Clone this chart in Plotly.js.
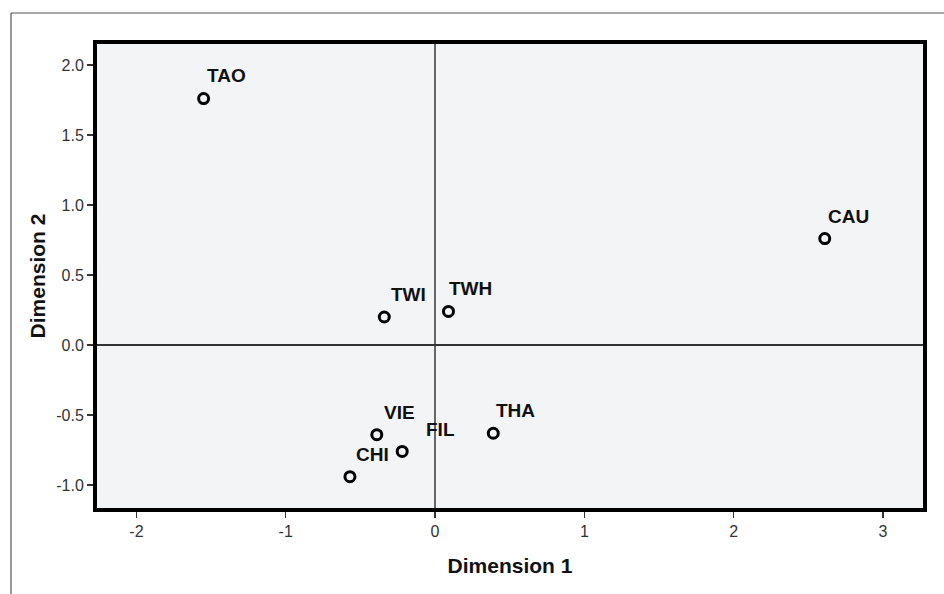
<!DOCTYPE html>
<html>
<head>
<meta charset="utf-8">
<script src="https://cdn.plot.ly/plotly-3.0.1.min.js"></script>
<style>
  html, body { margin: 0; padding: 0; background: #fff; }
  #chart { width: 944px; height: 594px; }
</style>
</head>
<body>
<div id="chart"></div>
<script>
// ---- data ----
const groups = ["TAO", "CAU", "TWI", "TWH", "VIE", "FIL", "CHI", "THA"];
const dim1   = [-1.55, 2.61, -0.34, 0.09, -0.39, -0.22, -0.57, 0.39];
const dim2   = [1.76, 0.76, 0.20, 0.24, -0.64, -0.76, -0.94, -0.63];

const xTickVals = [-2, -1, 0, 1, 2, 3];
const xTickText = ["-2", "-1", "0", "1", "2", "3"];
const yTickVals = [-1, -0.5, 0, 0.5, 1, 1.5, 2];
const yTickText = ["-1.0", "-0.5", "0.0", "0.5", "1.0", "1.5", "2.0"];

// label placement (pixel offsets from each point)
const labelDx = [1, 1, 5, -1, 5, 22, 4, 1];
const labelDy = [23, 22, 23, 23, 22, 22, 22, 23];

const W = 944, H = 594;
const M = { l: 97, r: 21, t: 44, b: 86 };
const pw = W - M.l - M.r, ph = H - M.t - M.b;
const px = v => (v - M.l) / pw;           // pixel x -> paper x
const py = v => 1 - (v - M.t) / ph;       // pixel y -> paper y

const FONT = "Liberation Sans, Arial, sans-serif";

const annotations = groups.map((g, i) => ({
  x: dim1[i], y: dim2[i], xref: "x", yref: "y",
  text: g, showarrow: false,
  xanchor: "left", yanchor: "middle",
  xshift: labelDx[i], yshift: labelDy[i],
  font: { family: FONT, size: 19, color: "#111", weight: "bold" }
}));

const trace = {
  type: "scatter", mode: "markers",
  x: dim1, y: dim2, text: groups,
  marker: { symbol: "circle-open", size: 10, color: "#000", line: { width: 3, color: "#000" } },
  hoverinfo: "text+x+y", showlegend: false
};

const axisCommon = {
  showgrid: false,
  showline: true, linecolor: "#000", linewidth: 4, mirror: true,
  ticks: "outside", ticklen: 6, tickwidth: 1.5, tickcolor: "#333",
  tickmode: "array",
  tickfont: { family: FONT, size: 16, color: "#333" },
  zeroline: true, zerolinewidth: 1.5,
  automargin: false
};

const layout = {
  width: W, height: H,
  margin: M,
  paper_bgcolor: "#fff",
  plot_bgcolor: "#f3f4f6",
  xaxis: Object.assign({}, axisCommon, {
    range: [-2.264, 3.268],
    tickvals: xTickVals, ticktext: xTickText,
    zerolinecolor: "#666",
    title: { text: "Dimension 1", standoff: 20,
             font: { family: FONT, size: 21, color: "#111", weight: "bold" } }
  }),
  yaxis: Object.assign({}, axisCommon, {
    range: [-1.164, 2.15],
    tickvals: yTickVals, ticktext: yTickText,
    zerolinecolor: "#333",
    title: { text: "Dimension 2", standoff: 6,
             font: { family: FONT, size: 21, color: "#111", weight: "bold" } }
  }),
  annotations: annotations,
  shapes: [
    { type: "line", xref: "paper", yref: "paper",
      x0: px(11), x1: px(11), y0: py(13), y1: py(H + 2),
      line: { color: "#555", width: 1.2 } },
    { type: "line", xref: "paper", yref: "paper",
      x0: px(11), x1: px(W + 2), y0: py(13), y1: py(13),
      line: { color: "#555", width: 1.2 } }
  ]
};

Plotly.newPlot("chart", [trace], layout, { displayModeBar: false, staticPlot: true });
</script>
</body>
</html>
